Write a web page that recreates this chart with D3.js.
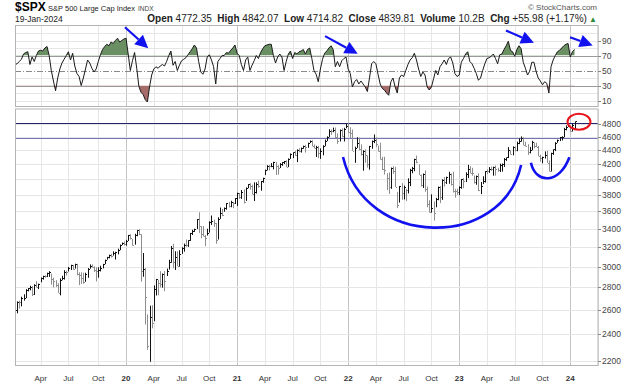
<!DOCTYPE html>
<html>
<head>
<meta charset="utf-8">
<script src="https://cdn.jsdelivr.net/npm/d3@7"></script>
<style>
body { margin: 0; background: #fff; }
svg { display: block; font-family: "Liberation Sans", Arial, sans-serif; }
</style>
</head>
<body>
<script>
// weekly bars, first bar is the week of Monday 7-Jan-2019
var startDate = new Date(2019, 0, 7);

var closes = [
  2596,2671,2665,2707,2708,2776,2793,2804,2743,2822,2801,2834,2893,2907,2905,2940,2946,2881,2860,2826,2752,2873,2887,2950,2942,2990,3014,2977,3026,2932,2919,2889,2847,2926,2979,3007,2992,2962,2952,2970,2986,3023,3067,3093,3120,3110,3141,3146,3169,3221,3240,
  3235,3265,3330,3295,3226,3328,3380,3338,2954,2972,2711,2305,2541,2489,2790,2875,2837,2831,2930,2864,2955,3044,3194,3041,3098,3009,3130,3185,3225,3216,3271,3351,3373,3397,3508,3427,3341,3319,3298,3348,3477,3484,3465,3270,3510,3585,3558,3638,3699,3663,3709,3703,3756,
  3825,3768,3841,3714,3887,3934,3907,3811,3842,3943,3913,3975,4020,4129,4185,4180,4181,4233,4174,4156,4204,4230,4247,4166,4281,4352,4370,4327,4412,4395,4437,4468,4442,4509,4535,4459,4433,4455,4357,4391,4471,4545,4605,4697,4683,4698,4595,4538,4712,4620,4726,4766,
  4677,4662,4398,4432,4501,4419,4349,4385,4329,4204,4463,4543,4546,4488,4393,4272,4132,4123,4023,3901,4158,4109,3901,3675,3912,3825,3899,3863,3962,4130,4145,4280,4228,4058,3924,4067,3873,3693,3586,3640,3583,3753,3901,3771,3993,3965,4026,4072,3934,3852,3845,3840,
  3895,3999,3973,4071,4136,4090,4079,3970,4046,3862,3917,3971,4109,4105,4138,4133,4169,4136,4124,4192,4205,4282,4299,4410,4348,4450,4399,4505,4536,4582,4478,4464,4370,4406,4516,4457,4450,4320,4288,4309,4327,4224,4117,4358,4415,4514,4559,4595,4604,4719,4755,4770,
  4697,4784,4840
];
var highs = [
  2597,2675,2681,2716,2738,2785,2795,2816,2812,2830,2860,2836,2894,2910,2916,2940,2955,2931,2892,2868,2841,2885,2910,2964,2959,2996,3018,3017,3028,3027,2944,2943,2939,2940,2985,3021,3022,3002,2993,2993,3008,3027,3069,3097,3120,3128,3154,3150,3182,3226,3248,
  3259,3276,3330,3338,3285,3342,3385,3394,3337,3137,2985,2562,2637,2641,2819,2880,2871,2955,2932,2955,2980,3068,3211,3233,3155,3154,3166,3197,3236,3280,3273,3352,3387,3399,3509,3588,3426,3429,3329,3398,3482,3550,3501,3465,3529,3645,3628,3645,3699,3712,3726,3712,3760,
  3827,3823,3861,3870,3894,3937,3950,3928,3960,3960,3983,3978,4021,4129,4191,4194,4219,4238,4236,4188,4219,4233,4249,4258,4286,4356,4372,4393,4415,4430,4441,4469,4481,4513,4546,4549,4486,4466,4466,4429,4475,4559,4608,4718,4714,4743,4744,4652,4713,4731,4740,4808,
  4819,4749,4714,4453,4595,4590,4489,4402,4416,4327,4465,4546,4637,4593,4471,4513,4308,4308,4081,4091,4158,4177,4168,3838,3913,3950,3918,3877,4012,4140,4167,4280,4325,4203,4062,4077,4119,3906,3733,3806,3718,3762,3905,3912,4001,4029,4035,4100,4077,4101,3876,3878,
  3907,4004,4015,4094,4195,4176,4154,4050,4049,4079,3964,4040,4110,4133,4164,4170,4170,4186,4155,4212,4213,4290,4299,4448,4400,4458,4456,4528,4578,4607,4595,4527,4490,4450,4541,4514,4511,4464,4338,4309,4385,4394,4256,4366,4415,4521,4560,4599,4609,4739,4778,4793,
  4754,4802,4842
];
var lows = [
  2524,2571,2612,2631,2681,2704,2764,2774,2722,2732,2800,2785,2848,2873,2891,2898,2900,2826,2801,2805,2750,2728,2868,2874,2912,2952,2966,2967,2980,2914,2822,2834,2834,2853,2891,2979,2990,2946,2856,2892,2952,2982,3024,3069,3083,3091,3110,3070,3123,3167,3220,
  3216,3214,3264,3280,3214,3225,3315,3328,2855,2901,2478,2280,2192,2447,2505,2727,2728,2800,2798,2766,2908,2970,3038,2984,2966,3004,2999,3128,3151,3202,3201,3264,3329,3363,3395,3350,3293,3313,3209,3323,3355,3441,3420,3234,3279,3511,3543,3594,3619,3645,3648,3636,3687,
  3663,3750,3750,3694,3725,3884,3865,3805,3723,3816,3890,3853,3955,4056,4119,4119,4163,4132,4057,4061,4151,4181,4207,4165,4164,4278,4289,4322,4233,4372,4368,4423,4368,4437,4509,4458,4428,4305,4288,4279,4329,4460,4537,4595,4630,4672,4585,4495,4531,4600,4531,4733,
  4663,4582,4395,4223,4436,4401,4327,4115,4223,4157,4129,4424,4507,4450,4381,4268,4124,4063,3859,3811,3876,4073,3900,3637,3705,3739,3743,3722,3818,3911,4080,4108,4218,4057,3907,3887,3838,3647,3584,3584,3491,3647,3733,3698,3737,3906,3938,3942,3918,3828,3765,3800,
  3795,3877,3885,3964,4015,4079,4047,3944,3928,3847,3809,3937,3958,4069,4086,4114,4048,4048,4099,4098,4103,4166,4250,4290,4341,4328,4385,4388,4491,4528,4474,4458,4335,4356,4402,4431,4447,4316,4238,4216,4283,4223,4104,4104,4334,4390,4511,4537,4546,4594,4700,4752,
  4682,4682,4715
];
// RSI line, one value per week
var rsi = [
  58,59,62,65,72,74,75,58,68,62,
  70,76,77,76,80,82,70,50,36,23,
  40,52,60,65,70,75,64,73,56,46,
  42,30,40,52,64,60,53,48,52,62,
  71,78,82,85,83,88,86,90,93,88,
  90,92,93,72,50,63,74,53,29,21,
  18,11,8,28,44,52,55,53,56,58,
  56,62,70,76,57,62,50,57,63,65,
  67,71,75,79,84,80,62,48,45,52,
  68,71,64,55,32,62,66,70,70,74,
  73,77,80,84,73,70,58,50,64,68,
  50,57,63,70,66,74,79,83,84,85,
  85,70,60,68,72,68,50,62,72,76,
  66,74,72,75,76,78,72,78,80,66,
  50,45,35,52,65,73,76,80,83,78,
  55,62,55,63,66,68,52,46,28,35,
  38,32,36,32,28,22,40,59,62,59,
  45,32,26,24,20,17,35,40,28,20,
  40,44,42,50,58,64,67,73,64,52,
  42,48,44,28,24,28,39,50,44,55,
  59,64,58,66,68,60,46,42,44,61,
  66,72,75,62,59,53,46,37,40,50,
  59,66,67,69,72,66,59,71,72,78,
  83,89,77,75,69,78,83,79,61,53,
  44,49,61,61,49,40,36,31,35,33,
  20,55,64,70,75,77,80,83,85,86,
  68,75,78
];

var priceTicks = [2200,2400,2600,2800,3000,3200,3400,3600,3800,4000,4200,4400,4600,4800];
var rsiTicks = [10,30,50,70,90];
var rsiGrid = [10,20,30,40,50,60,70,80,90,100];
var resistance = [4818, 4585];
var quote = [["Open","4772.35"],["High","4842.07"],["Low","4714.82"],["Close","4839.81"],["Volume","10.2B"],["Chg","+55.98 (+1.17%)"]];
var monthNames = ["Jan","Feb","Mar","Apr","May","Jun","Jul","Aug","Sep","Oct","Nov","Dec"];

var W = 638, H = 384;
var left = 15, right = 598;
var rsiTop = 25.5, rsiBottom = 106.5, mainTop = 109, mainBottom = 365.5;

var svg = d3.select("body").append("svg")
  .attr("width", W)
  .attr("height", H);

var weeks = d3.range(274).map(function(i) { return d3.timeDay.offset(startDate, 7 * i); });

var x = d3.scaleLinear().domain([0, 273]).range([left, right]);
var yRsi = d3.scaleLinear().domain([2, 110]).range([rsiBottom, rsiTop]);
var yPrice = d3.scaleLog().domain([2165, 5043]).range([mainBottom, mainTop]);

function px(v) { return Math.round(v) + 0.5; }

// first weekly bar of each quarter month
var qTicks = [];
weeks.forEach(function(d, i) {
  if (i > 0 && d.getMonth() !== weeks[i - 1].getMonth() && d.getMonth() % 3 === 0) qTicks.push(i);
});

var defs = svg.append("defs");
defs.append("clipPath").attr("id", "clipRsi").append("rect")
  .attr("x", left).attr("y", rsiTop).attr("width", right - left).attr("height", rsiBottom - rsiTop);
defs.append("clipPath").attr("id", "clipMain").append("rect")
  .attr("x", left).attr("y", mainTop).attr("width", right - left).attr("height", mainBottom - mainTop);
defs.append("clipPath").attr("id", "clipHigh").append("rect")
  .attr("x", left).attr("y", rsiTop).attr("width", right - left).attr("height", yRsi(70) - rsiTop);
defs.append("clipPath").attr("id", "clipLow").append("rect")
  .attr("x", left).attr("y", yRsi(30)).attr("width", right - left).attr("height", rsiBottom - yRsi(30));

// vertical grid in both panels
[[rsiTop, rsiBottom], [mainTop, mainBottom]].forEach(function(p) {
  svg.append("g").selectAll("line")
    .data(qTicks)
    .enter()
    .append("line")
    .attr("x1", function(d) { return px(x(d)); })
    .attr("x2", function(d) { return px(x(d)); })
    .attr("y1", p[0])
    .attr("y2", p[1])
    .attr("stroke", function(d) { return weeks[d].getMonth() === 0 ? "#c4c4c4" : "#e6e6e6"; })
    .attr("stroke-width", 1);
});

// ---- RSI panel ----
svg.append("g").selectAll("line")
  .data(rsiGrid)
  .enter()
  .append("line")
  .attr("x1", left).attr("x2", right)
  .attr("y1", function(d) { return px(yRsi(d)); })
  .attr("y2", function(d) { return px(yRsi(d)); })
  .attr("stroke", function(d) { return (d === 70 || d === 30) ? "#9a9a9a" : (d === 50 ? "none" : "#e6e6e6"); })
  .attr("stroke-width", 1);

svg.append("line")
  .attr("x1", left).attr("x2", right)
  .attr("y1", px(yRsi(50))).attr("y2", px(yRsi(50)))
  .attr("stroke", "#8a8a8a")
  .attr("stroke-dasharray", "6,2,1,2");

var areaHigh = d3.area()
  .x(function(d, i) { return x(i); })
  .y0(yRsi(70))
  .y1(function(d) { return yRsi(d); });
var areaLow = d3.area()
  .x(function(d, i) { return x(i); })
  .y0(yRsi(30))
  .y1(function(d) { return yRsi(d); });

svg.append("path").datum(rsi)
  .attr("d", areaHigh)
  .attr("fill", "#6a8f62")
  .attr("clip-path", "url(#clipHigh)");
svg.append("path").datum(rsi)
  .attr("d", areaLow)
  .attr("fill", "#a56c6a")
  .attr("clip-path", "url(#clipLow)");

svg.append("path").datum(rsi)
  .attr("d", d3.line().x(function(d, i) { return x(i); }).y(function(d) { return yRsi(d); }))
  .attr("fill", "none")
  .attr("stroke", "#1a1a1a")
  .attr("stroke-width", 1)
  .attr("clip-path", "url(#clipRsi)");

// ---- price panel ----
svg.append("g").selectAll("line")
  .data(priceTicks)
  .enter()
  .append("line")
  .attr("x1", left).attr("x2", right)
  .attr("y1", function(d) { return px(yPrice(d)); })
  .attr("y2", function(d) { return px(yPrice(d)); })
  .attr("stroke", "#e6e6e6");

svg.append("g").selectAll("line")
  .data(resistance)
  .enter()
  .append("line")
  .attr("x1", left).attr("x2", right)
  .attr("y1", function(d) { return px(yPrice(d)); })
  .attr("y2", function(d) { return px(yPrice(d)); })
  .attr("stroke", function(d, i) { return i === 0 ? "#23236e" : "#7474b4"; })
  .attr("stroke-width", 1.2);

var bars = svg.append("g").attr("clip-path", "url(#clipMain)");
function barColor(d, i) { return (i > 0 && d < closes[i - 1]) ? "#8e8e8e" : "#111"; }

bars.selectAll("line.hl")
  .data(closes)
  .enter()
  .append("line")
  .attr("class", "hl")
  .attr("x1", function(d, i) { return px(x(i)); })
  .attr("x2", function(d, i) { return px(x(i)); })
  .attr("y1", function(d, i) { return yPrice(highs[i]); })
  .attr("y2", function(d, i) { return yPrice(lows[i]); })
  .attr("stroke", barColor)
  .attr("stroke-width", 1);

bars.selectAll("line.cl")
  .data(closes)
  .enter()
  .append("line")
  .attr("class", "cl")
  .attr("x1", function(d, i) { return Math.round(x(i)) + 1; })
  .attr("x2", function(d, i) { return Math.round(x(i)) + 2; })
  .attr("y1", function(d) { return px(yPrice(d)); })
  .attr("y2", function(d) { return px(yPrice(d)); })
  .attr("stroke", barColor)
  .attr("stroke-width", 1);

// panel frames
[[rsiTop, rsiBottom], [mainTop, mainBottom]].forEach(function(p) {
  svg.append("rect")
    .attr("x", left + 0.5).attr("y", p[0])
    .attr("width", right - left - 0.5).attr("height", p[1] - p[0])
    .attr("fill", "none")
    .attr("stroke", "#b4b4b4");
});

// ---- right axes ----
function rightAxis(ticks, scale) {
  var g = svg.append("g");
  g.selectAll("line")
    .data(ticks)
    .enter()
    .append("line")
    .attr("x1", right).attr("x2", right + 3)
    .attr("y1", function(d) { return px(scale(d)); })
    .attr("y2", function(d) { return px(scale(d)); })
    .attr("stroke", "#888");
  g.selectAll("text")
    .data(ticks)
    .enter()
    .append("text")
    .attr("x", right + 4)
    .attr("y", function(d) { return scale(d) + 3; })
    .attr("font-size", "8.5px")
    .attr("fill", "#444")
    .text(function(d) { return d; });
}
rightAxis(rsiTicks, yRsi);
rightAxis(priceTicks, yPrice);

// ---- bottom axis ----
svg.append("g").selectAll("text")
  .data(qTicks.filter(function(d) { return x(d) < right - 5; }))
  .enter()
  .append("text")
  .attr("x", function(d) { return x(d); })
  .attr("y", 381)
  .attr("text-anchor", "middle")
  .attr("font-size", "8px")
  .attr("font-weight", function(d) { return weeks[d].getMonth() === 0 ? "bold" : "normal"; })
  .attr("fill", "#333")
  .text(function(d) {
    var m = weeks[d].getMonth();
    return m === 0 ? String(weeks[d].getFullYear()).slice(2) : monthNames[m];
  });

// ---- header ----
svg.append("text").attr("x", 15).attr("y", 11).attr("font-size", "12px").attr("font-weight", "bold").text("$SPX");
svg.append("text").attr("x", 48).attr("y", 11).attr("font-size", "7.5px").attr("fill", "#222")
  .text("S&P 500 Large Cap Index");
svg.append("text").attr("x", 138).attr("y", 11).attr("font-size", "6.5px").attr("fill", "#444").text("INDX");
svg.append("text").attr("x", 15).attr("y", 22).attr("font-size", "8.5px").attr("fill", "#222").text("19-Jan-2024");
svg.append("text").attr("x", 597).attr("y", 10).attr("text-anchor", "end").attr("font-size", "8px").attr("fill", "#555").text("\u00a9 StockCharts.com");

var qt = svg.append("text").attr("x", 597).attr("y", 22).attr("text-anchor", "end").attr("font-size", "10px").attr("fill", "#222")
  .attr("xml:space", "preserve").style("white-space", "pre");
quote.forEach(function(q, i) {
  qt.append("tspan").attr("font-weight", "bold").text((i ? "  " : "") + q[0] + " ");
  qt.append("tspan").text(q[1]);
});
qt.append("tspan").attr("fill", "#2e8b3a").attr("font-size", "8px").text(" \u25b2");

// ---- annotations ----
var blue = "#1212f0";
var arrows = [
  [[51.5, 107.7], [62.4, 79.8]],
  [[145.2, 95.8], [160.5, 72.2]],
  [[229.9, 103.3], [243.0, 86.9]],
  [[259.9, 94.4], [270.5, 83.4]]
];
arrows.forEach(function(a) {
  var x1 = x(a[0][0]), y1 = yRsi(a[0][1]), x2 = x(a[1][0]), y2 = yRsi(a[1][1]);
  var ang = Math.atan2(y2 - y1, x2 - x1), hl = 13, hw = 6.5;
  var bx = x2 - hl * Math.cos(ang), by = y2 - hl * Math.sin(ang);
  svg.append("line")
    .attr("x1", x1).attr("y1", y1).attr("x2", bx).attr("y2", by)
    .attr("stroke", blue).attr("stroke-width", 2.2);
  svg.append("path")
    .attr("d", "M" + x2 + "," + y2 +
      "L" + (bx + hw * Math.sin(ang)) + "," + (by - hw * Math.cos(ang)) +
      "L" + (bx - hw * Math.sin(ang)) + "," + (by + hw * Math.cos(ang)) + "Z")
    .attr("fill", blue);
});

var cups = [
  [[153.6, 4305], [164.0, 3170], [228.0, 3170], [237.0, 4193]],
  [[241.6, 4225], [243.8, 3934], [255.0, 3934], [259.6, 4301]]
];
cups.forEach(function(c) {
  var p = c.map(function(d) { return [x(d[0]), yPrice(d[1])]; });
  svg.append("path")
    .attr("d", "M" + p[0] + "C" + p[1] + " " + p[2] + " " + p[3])
    .attr("fill", "none")
    .attr("stroke", blue)
    .attr("stroke-width", 2.6);
});

svg.append("ellipse")
  .attr("cx", x(264.1)).attr("cy", yPrice(4836))
  .attr("rx", 11.5).attr("ry", 8)
  .attr("fill", "none")
  .attr("stroke", "#e8141c")
  .attr("stroke-width", 2);
</script>
</body>
</html>
